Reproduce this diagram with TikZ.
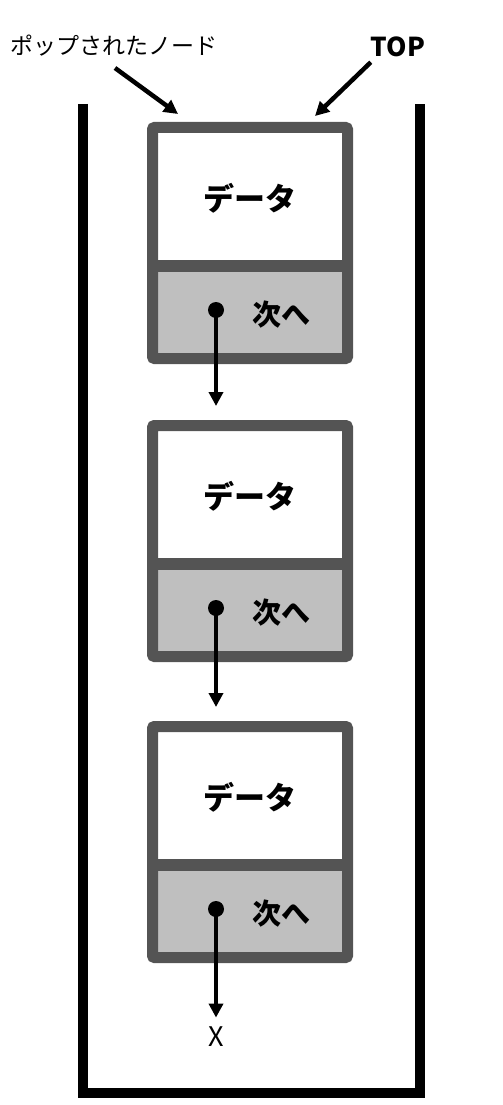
\documentclass[tikz,border=0pt]{standalone}
\usepackage{fontspec}
\newfontfamily\jp{Noto Sans CJK JP}
\usetikzlibrary{arrows.meta}

\begin{document}
\begin{tikzpicture}[x=1pt,y=-1pt,font=\jp]

	\tikzstyle{mywall}=[line width=10pt,miter limit=10]
	\tikzstyle{mybox}=[draw=black!67,line width=11pt,rounded corners=2pt,minimum width=195pt,minimum height=231pt,inner sep=0pt]
	\tikzstyle{mygray}=[black!25]
	\tikzstyle{mydiv}=[draw=black!67,line width=12pt]
	\tikzstyle{mydata}=[font=\jp\bfseries\fontsize{31pt}{36pt}\selectfont]
	\tikzstyle{mynext}=[font=\jp\bfseries\fontsize{29pt}{34pt}\selectfont]
	\tikzstyle{mydot}=[circle,fill=black,inner sep=0pt,minimum size=16pt]
	\tikzstyle{myarrow}=[line width=4.5pt,-{Triangle[length=14pt,width=14pt]}]

	\useasboundingbox (0,0) rectangle (503,1105);

	% container
	\draw[mywall] (83,104) -- (83,1093) -- (420,1093) -- (420,104);

	% nodes of the list
	\foreach \i / \t in {1/122,2/420,3/721}{
		\fill[mygray] (152,{\t+144}) rectangle (348,{\t+236});
		\node[mybox] (box\i) at (250,{\t+121}) {};
		\draw[mydiv] (147,{\t+144}) -- (353,{\t+144});
		\node[mydata] (data\i) at (250,{\t+76}) {データ};
		\node[mynext] (next\i) at (281,{\t+193}) {次へ};
		\node[mydot] (ptr\i) at (216,{\t+188}) {};
	}

	\foreach \i / \j in {1/2,2/3}{ \draw[myarrow,shorten >=14pt] (ptr\i.center) -- (box\j.north -| ptr\i);}

	\node[font=\jp\fontsize{27pt}{31pt}\selectfont] (nil) at (216,1037) {X};
	\draw[myarrow,shorten >=6pt] (ptr3.center) -- (nil);

	% labels
	\node[anchor=west,inner sep=0pt,font=\jp\fontsize{23pt}{27pt}\selectfont] (popped) at (10,46) {ポップされたノード};
	\node[inner sep=0pt,font=\jp\bfseries\fontsize{26pt}{30pt}\selectfont] (toplbl) at (398,47) {TOP};
	\coordinate (popin) at (178,114);
	\coordinate (topin) at (315,116);
	\draw[myarrow] (115,68) -- (popin);
	\draw[myarrow] (toplbl.south west) ++(0,5) -- (topin);
\end{tikzpicture}
\end{document}
